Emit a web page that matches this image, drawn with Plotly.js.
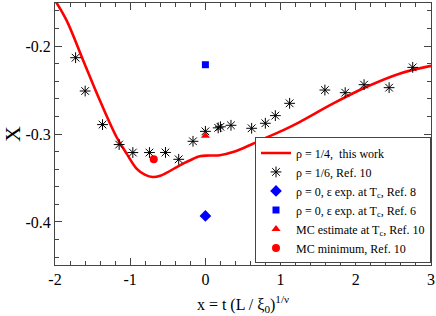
<!DOCTYPE html>
<html>
<head>
<meta charset="utf-8">
<script src="https://cdn.plot.ly/plotly-3.0.1.min.js"></script>
<style>html,body{margin:0;padding:0;background:#fff;}#chart{width:436px;height:316px;}</style>
</head>
<body>
<div id="chart"></div>
<script>
// rho = 1/4, this work (curve)
const curveX = [-2.0, -1.846, -1.625, -1.404, -1.182, -1.05, -0.916, -0.80, -0.70, -0.60, -0.518, -0.40, -0.297, -0.18, -0.076, 0.05, 0.19, 0.367, 0.588, 0.81, 1.03, 1.252, 1.695, 2.138, 2.58, 3.0];
const curveY = [-0.148, -0.1708, -0.2163, -0.2617, -0.3034, -0.322, -0.3393, -0.3465, -0.3489, -0.3475, -0.3443, -0.3385, -0.3337, -0.329, -0.3253, -0.3245, -0.3242, -0.3205, -0.3128, -0.3041, -0.2958, -0.2864, -0.2655, -0.2466, -0.2314, -0.2225];
// rho = 1/6, Ref. 10
const starX = [-1.726, -1.599, -1.368, -1.147, -0.965, -0.744, -0.531, -0.355, -0.165, 0.0, 0.17, 0.20, 0.34, 0.615, 0.797, 0.93, 1.12, 1.589, 1.859, 2.11, 2.443, 2.757];
const starY = [-0.2132, -0.2511, -0.2893, -0.312, -0.3211, -0.3211, -0.321, -0.3288, -0.3083, -0.297, -0.2930, -0.2918, -0.2901, -0.2935, -0.2878, -0.2791, -0.2651, -0.25, -0.253, -0.2439, -0.2473, -0.2242];
// single estimates
const diamondX = [0]; const diamondY = [-0.3932];
const squareX = [0];  const squareY = [-0.2212];
const triX = [0];     const triY = [-0.302];
const circX = [-0.687]; const circY = [-0.3288];

const names = ['ρ = 1/4,  this work', 'ρ = 1/6, Ref. 10', 'ρ = 0, ε exp. at T<sub>c</sub>, Ref. 8', 'ρ = 0, ε exp. at T<sub>c</sub>, Ref. 6', 'MC estimate at T<sub>c</sub>, Ref. 10', 'MC minimum, Ref. 10'];
const xTickVals = [-2, -1, 0, 1, 2, 3];
const xTickText = ['-2', '-1', '0', '1', '2', '3'];
const yTickVals = [-0.4, -0.3, -0.2];
const yTickText = ['-0.4', '-0.3', '-0.2'];

const serif = 'Times New Roman, Liberation Serif, DejaVu Serif, serif';

const traces = [
  {x: curveX, y: curveY, mode: 'lines', name: names[0], line: {color: '#ff0000', width: 2.6, shape: 'spline', smoothing: 1}},
  {x: starX, y: starY, mode: 'markers', name: names[1], marker: {symbol: 'asterisk-open', size: 9, color: '#000', line: {color: '#000', width: 1}}},
  {x: diamondX, y: diamondY, mode: 'markers', name: names[2], marker: {symbol: 'diamond', size: 9, color: '#0000ff'}},
  {x: squareX, y: squareY, mode: 'markers', name: names[3], marker: {symbol: 'square', size: 7, color: '#0000ff'}},
  {x: triX, y: triY, mode: 'markers', name: names[4], marker: {symbol: 'triangle-up', size: 8, color: '#ff0000'}},
  {x: circX, y: circY, mode: 'markers', name: names[5], marker: {symbol: 'circle', size: 8, color: '#ff0000'}}
];

const axisCommon = {
  showgrid: false, zeroline: false, showline: true, linecolor: '#444', linewidth: 1,
  mirror: 'allticks', ticks: 'inside', ticklen: 7, tickcolor: '#444', tickwidth: 1,
  tickfont: {family: serif, size: 16, color: '#000'}
};

const layout = {
  width: 436, height: 316,
  margin: {l: 55, r: 5, t: 3, b: 51},
  paper_bgcolor: '#fff', plot_bgcolor: '#fff',
  showlegend: true,
  font: {family: serif},
  xaxis: Object.assign({}, axisCommon, {
    range: [-2, 3], tickmode: 'array', tickvals: xTickVals, ticktext: xTickText,
    minor: {dtick: 0.2, ticks: 'inside', ticklen: 4, tickcolor: '#444', showgrid: false},
    title: {text: 'x = t (L / ξ<sub>0</sub>)<sup>1/ν</sup>', font: {family: serif, size: 16, color: '#000'}, standoff: 11}
  }),
  yaxis: Object.assign({}, axisCommon, {
    range: [-0.449, -0.151], tickmode: 'array', tickvals: yTickVals, ticktext: yTickText,
    minor: {dtick: 0.02, ticks: 'inside', ticklen: 4, tickcolor: '#444', showgrid: false},
    title: {text: 'X', font: {family: serif, size: 22, color: '#000'}, standoff: 6}
  }),
  legend: {
    x: 1, xanchor: 'right', y: 0.006, yanchor: 'bottom',
    bgcolor: '#fff', bordercolor: '#444', borderwidth: 1,
    font: {family: serif, size: 12, color: '#000'},
    tracegroupgap: 0, itemwidth: 30
  }
};

Plotly.newPlot('chart', traces, layout, {displayModeBar: false, staticPlot: true});
</script>
</body>
</html>
